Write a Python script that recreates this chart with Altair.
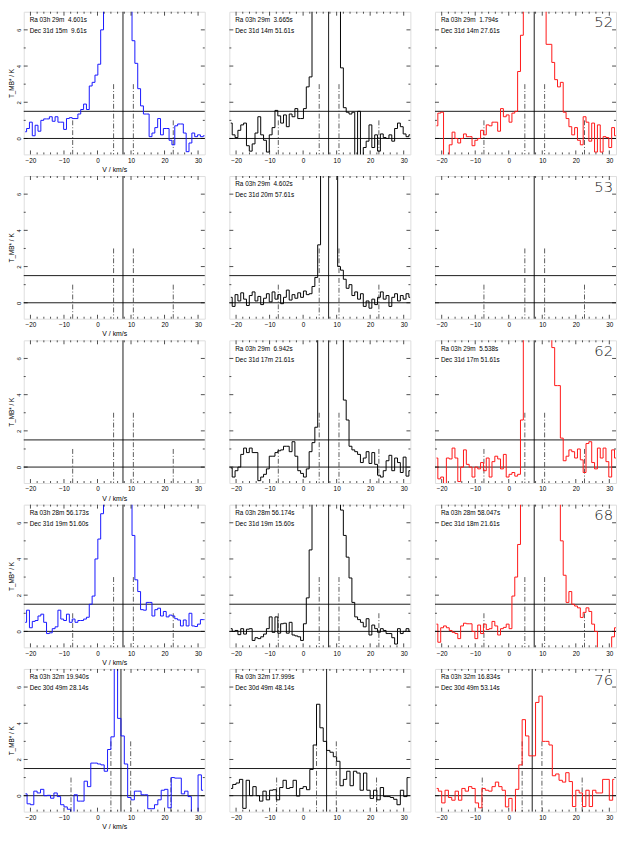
import altair as alt
import pandas as pd

# ---------------- axis ranges ----------------
X_DOMAIN = [-22.0, 32.0]
Y_DOMAIN = [-0.88, 7.0]
x_label_values = [-20, -10, 0, 10, 20, 30]
y_label_values = [0, 2, 4, 6]
x_major_ticks = [-20, -10, 0, 10, 20, 30]
x_minor_ticks = [-18, -16, -14, -12, -8, -6, -4, -2, 2, 4, 6, 8,
                 12, 14, 16, 18, 22, 24, 26, 28]
y_major_ticks = [0, 2, 4, 6]
y_minor_ticks = [1, 3, 5]

# spectral grid (first channel edge, channel width in km/s)
V_START = -22.0
DV_UPPER = 0.85   # rows 1-4
DV_LOWER = 1.0    # row 5

# ---------------- spectra: T_MB* (K) per channel ----------------
r1c1 = [0.37, 0.55, 0.9, 0.15, 0.73, 0.4, 1.0, 1.08, 1.08, 1.2,
        0.95, 1.2, 0.9, 0.9, 0.5, 1.1, 1.15, 1.1, 1.1, 1.35,
        1.6, 1.9, 1.6, 2.9, 3.1, 3.5, 4.1, 6.0,
        8.5, 10.5, 12.5, 14.0, 14.5, 14.0, 12.5, 11.0, 9.5, 8.0,
        5.4, 4.15, 2.75, 1.8, 1.35, 1.35, 0.1, 0.3, 0.6, 1.1,
        0.2, 0.55, 0.55, -0.1, -0.35, 0.7, 0.8, 0.8, 0.3, -0.73,
        -0.25, 0.3, 0.1, 0.2, 0.1, 0.15]
r1c2 = [0.85, 0.2, 0.05, 0.45, 0.75, 0.85, -0.4, -0.7, -0.3, 0.3,
        1.2, 0.2, -0.1, -0.75, 0.2, 0.6, 1.55, 1.25, 0.85, 1.3,
        0.65, 1.35, 1.2, 1.65, 1.1, 1.1, 1.65, 2.85, 3.4,
        8.0, 9.5, 11.0, 12.5, 13.5, 13.5, 12.5, 11.0, 9.5, 8.0,
        3.9, 1.7, 1.45, 1.35, 1.45, -1.2, 1.5, -1.2, -0.5, -0.15,
        0.75, -0.5, 0.2, -0.7, 0.25, 0.05, 0.0, 0.2, -0.15, 0.55,
        0.85, 0.65, 0.25, 0.1, 0.2]
r1c3 = [0.7, 1.4, 1.45, -1.2, -1.2, -0.35, 0.35, 0.0, -0.25, 0.0,
        0.25, 0.1, 0.1, -0.4, -0.1, 0.0, 0.45, 0.2, 0.75, 0.7,
        0.9, 0.9, 0.4, 1.65, 1.2, 1.3, 0.9, 1.4, 1.5, 3.7,
        5.7,
        8.5, 10.0, 12.0, 13.0, 13.0, 12.0, 10.0, 8.5,
        5.2, 5.2, 4.2, 3.25, 2.85, 3.1, 1.45, 1.1, 0.65, 0.2,
        0.6, -0.1, -0.35, 1.2, 0.9, -0.15, 0.85, -0.75, 0.75, -0.75,
        0.1, 0.05, -0.5, 0.6, 0.15]
r2c2 = [0.3, -0.2, 0.45, 0.1, 0.55, 0.2, -0.15, 0.4, 0.6, 0.1,
        0.35, -0.1, 0.25, 0.5, 0.05, 0.6, 0.2, 0.45, -0.05, 0.3,
        0.7, 0.15, 0.45, 0.25, 0.55, 0.3, 0.65, 0.45,
        0.5, 0.9, 1.4, 3.2,
        8.0, 10.0, 11.0, 11.0, 10.0, 8.5,
        2.0, 1.8, 1.3, 0.8, 1.0, 0.4, 0.6, 0.2, 0.5, -0.2,
        0.1, -0.3, 0.2, -0.1, 0.3, 0.6, 0.2, 0.4, -0.2, 0.3,
        0.5, 0.1, 0.4, 0.2, 0.5, 0.3]
r3c2 = [-0.05, -0.55, -0.2, 0.0, 0.7, 1.05, 0.8, 1.05, 0.8, 0.8,
        -0.75, -0.55, -0.4, -0.1, 0.6, 0.6, 0.8, 0.9, 0.95, 1.15,
        1.15, 0.85, 1.4, 0.6, -0.2, -0.35, -0.55, -0.1, 0.85, 1.35,
        2.2,
        8.0, 9.5, 11.0, 12.0, 12.5, 12.0, 11.0, 9.5, 8.0,
        3.7, 2.6, 1.15, 0.95, 0.85, 0.7, 0.25, 0.5, 0.85, 0.2,
        0.8, 0.15, -0.45, -0.55, -0.2, 0.35, 0.65, -0.2, 0.5, 0.25,
        -0.3, 0.55, -0.5, -0.2]
r3c3 = [0.5, -0.65, -0.55, -1.2, 0.5, 0.45, 1.05, 0.5, -0.8, 0.0,
        0.95, 0.15, 0.0, -0.55, 0.0, -0.1, 0.25, -0.2, 0.5, -0.55,
        0.3, 0.6, 0.45, -0.1, 0.7, -0.55, -0.4, -0.3, -0.5, -0.4,
        2.6,
        8.0, 9.5, 11.0, 12.0, 13.0, 13.0, 12.0, 11.0, 9.5, 8.0,
        6.6, 4.5, 4.5, 1.6, 0.35, 0.6, 0.95, 0.85, 0.5,
        1.0, 0.4, -0.3, 1.3, 1.4, 0.25, -0.1, 1.05, 0.5, 1.05,
        0.3, -0.55, 0.95, 0.5]
r4c1 = [0.5, 1.17, 0.2, 0.55, 0.6, 0.85, 0.95, 0.5, -0.12, -0.08,
        0.15, 0.25, 1.17, 0.68, 0.6, 0.95, 0.5, 0.68, 0.5, 0.6,
        0.6, 0.68, 0.78, 1.5, 1.95, 4.0, 5.1, 6.5,
        8.0, 9.5, 11.0, 12.5, 13.5, 13.5, 12.5, 11.0, 9.5, 8.0,
        5.3, 2.85, 2.2, 1.2, 1.17, 1.6, 1.6, 0.85, 1.2, 1.28,
        0.85, 1.1, 0.8, 0.9, 0.85, 0.7, 0.63, 0.3, 0.63, 0.3,
        1.0, 0.3, 0.27, 0.4, 0.65, 0.65]
r4c2 = [0.15, 0.0, 0.05, -0.18, 0.15, -0.15, 0.12, 0.15, -0.5, -0.35,
        -0.4, -0.3, -0.15, 0.15, 0.8, -0.05, 0.8, -0.1, 0.42, 0.45,
        -0.1, 0.5, -0.2, -0.25, -0.3, -0.5, 0.42, 1.85, 4.5,
        8.0, 9.5, 11.0, 12.5, 13.5, 13.5, 12.5, 11.0, 9.5, 8.0,
        6.7, 5.3, 4.1, 2.95, 1.6, 0.8, 0.65, 0.5, 0.25, 0.7,
        -0.2, 0.35, 0.15, -0.05, 0.15, 0.05, -0.12, -0.12, -0.35, -0.7,
        0.15, -0.12, 0.0, 0.15, 0.0]
r4c3 = [0.4, -0.6, 0.2, 0.3, 0.2, 0.05, -0.05, -0.12, -0.4, 0.3,
        0.45, 0.42, 0.42, 0.0, -0.4, 0.35, -0.12, 0.4, 0.1, 0.15,
        0.55, 0.3, -0.2, 0.15, 0.22, 0.4, 0.15, 1.95, 3.0, 4.8,
        8.0, 9.0, 10.0, 11.0, 12.0, 13.0, 13.5, 13.5, 13.0, 12.0, 11.0, 10.0, 9.0, 8.0,
        5.0, 3.1, 1.6, 2.2, 1.5, 1.4, 1.3, 0.77, 1.05, 1.3,
        1.1, 0.4, 0.0, -1.2, -1.2, -1.2, -1.2, -1.2, -0.3, 0.2]
r5c1 = [0.1, -0.45, -0.5, 0.25, 0.15, 0.35, 0.0, 0.02, -0.14, 0.15,
        -0.05, -0.5, -0.62, -0.75, -0.95, 0.05, -0.3, -0.3, 0.8, 0.5,
        1.8, 1.8, 1.75, 1.7, 1.35, 2.55, 3.25, 9.0, 4.27, 3.3,
        1.75, -0.1, -0.23, 0.25, 0.25, 0.05, 0.05, -0.72, -0.72, -0.5,
        -0.23, 0.3, 0.35, -0.67, 1.0, 0.97, 0.97, 0.1, 0.25, -0.05,
        -1.2, -1.2, 1.15, 0.3]
r5c2 = [0.4, 0.62, 0.7, 0.9, -0.7, 0.85, 0.0, 0.5, 0.0, -0.3,
        0.25, -0.23, 0.3, 0.33, -0.23, 0.45, 0.85, 0.4, 0.45, 0.85,
        -0.02, 0.4, 0.5, 0.33, 1.45, 2.8, 5.05, 3.75, 3.0, 2.5,
        2.4, 2.15, 1.9, 0.55, 0.9, 1.35, 0.55, 1.35, 1.25, 0.3,
        1.25, 0.3, -0.15, 0.3, -0.23, 0.45, -0.05, -0.05, -0.1, -0.2,
        -0.5, 0.3, -0.05, 1.0]
r5c3 = [0.4, 0.25, -0.4, 0.3, -0.1, -0.25, 0.25, -0.25, 0.4, 0.25,
        0.5, 0.4, -0.4, -0.67, 0.4, 0.3, 0.25, 0.5, 0.75, 0.5,
        0.3, -0.62, -0.15, -1.2, 0.35, 1.7, 4.2, 3.3, 2.2, 2.2,
        5.15, 5.5, 3.0, 3.0, 2.8, 1.1, 1.2, 0.85, 0.75, 1.27,
        0.78, -0.6, 0.3, 0.15, -0.6, 0.3, -0.6, 0.3, 0.15, 0.15,
        0.9, 0.9, -0.25, 0.9]

spectra = [
    [r1c1, r1c2, r1c3],
    [None, r2c2, None],
    [None, r3c2, r3c3],
    [r4c1, r4c2, r4c3],
    [r5c1, r5c2, r5c3],
]
row_dv = [DV_UPPER, DV_UPPER, DV_UPPER, DV_UPPER, DV_LOWER]

ra_text = [
    ["Ra 03h 29m  4.601s", "Ra 03h 29m  3.665s", "Ra 03h 29m  1.794s"],
    [None, "Ra 03h 29m  4.602s", None],
    [None, "Ra 03h 29m  6.942s", "Ra 03h 29m  5.538s"],
    ["Ra 03h 28m 56.173s", "Ra 03h 28m 56.174s", "Ra 03h 28m 58.047s"],
    ["Ra 03h 32m 19.940s", "Ra 03h 32m 17.999s", "Ra 03h 32m 16.834s"],
]
dec_text = [
    ["Dec 31d 15m  9.61s", "Dec 31d 14m 51.61s", "Dec 31d 14m 27.61s"],
    [None, "Dec 31d 20m 57.61s", None],
    [None, "Dec 31d 17m 21.61s", "Dec 31d 17m 51.61s"],
    ["Dec 31d 19m 51.60s", "Dec 31d 19m 15.60s", "Dec 31d 18m 21.61s"],
    ["Dec 30d 49m 28.14s", "Dec 30d 49m 48.14s", "Dec 30d 49m 53.14s"],
]
field_numbers = ["52", "53", "62", "68", "76"]

# reference velocities per row
solid_v = [7.6, 7.6, 7.6, 7.6, 7.0]
dashdot_v = [
    [-7.4, 4.8, 10.7, 22.6],
    [-7.4, 4.8, 10.7, 22.6],
    [-7.4, 4.8, 10.7, 22.6],
    [-7.4, 4.8, 10.7, 22.6],
    [-7.9, 4.0, 9.9, 21.9],
]
dashdot_h = [1.0, 3.0, 3.0, 1.0]
level_lines = [0.0, 1.5]

# ---------------- styling ----------------
W, H = 184, 145
FONT = "Liberation Sans"
COLORS = ["#1515ff", "#000000", "#ff1515"]
MAJOR_LEN, MINOR_LEN = 4, 2

xs = alt.Scale(domain=X_DOMAIN, nice=False, zero=False)
ys = alt.Scale(domain=Y_DOMAIN, nice=False, zero=False)


def x_axis(first_col):
    return alt.Axis(values=x_label_values, title="V / km/s" if first_col else None,
                    ticks=False, tickSize=0, domain=False, grid=False,
                    labelPadding=3, labelFontSize=6.5, labelFlush=False,
                    labelColor="black", labelFont=FONT,
                    titleFontSize=7, titleFontWeight="normal", titlePadding=2,
                    titleColor="black", titleFont=FONT)


def y_axis(first_col):
    if not first_col:
        return None
    return alt.Axis(values=y_label_values, title="T_MB* / K",
                    ticks=False, tickSize=0, domain=False, grid=False,
                    labelAngle=270, labelAlign="center", labelBaseline="bottom",
                    labelPadding=2, labelFontSize=6, labelColor="black", labelFont=FONT,
                    titleFontSize=6.5, titleFontWeight="normal", titlePadding=1.5,
                    titleColor="black", titleFont=FONT)


def X(field, first_col):
    return alt.X(f"{field}:Q", scale=xs, axis=x_axis(first_col))


def Y(field, first_col):
    return alt.Y(f"{field}:Q", scale=ys, axis=y_axis(first_col))


def nb(s):
    return s.replace("  ", " \u00a0")


def edge_ticks(first):
    out = []
    for vals, L in ((x_major_ticks, MAJOR_LEN), (x_minor_ticks, MINOR_LEN)):
        d = pd.DataFrame({"v": vals})
        out.append(alt.Chart(d).mark_rule(color="black", strokeWidth=0.7).encode(
            x=X("v", first), y=alt.value(0), y2=alt.value(L)))
        out.append(alt.Chart(d).mark_rule(color="black", strokeWidth=0.7).encode(
            x=X("v", first), y=alt.value(H - L), y2=alt.value(H)))
    for vals, L in ((y_major_ticks, MAJOR_LEN), (y_minor_ticks, MINOR_LEN)):
        d = pd.DataFrame({"h": vals})
        out.append(alt.Chart(d).mark_rule(color="black", strokeWidth=0.7).encode(
            y=Y("h", first), x=alt.value(0), x2=alt.value(L)))
        out.append(alt.Chart(d).mark_rule(color="black", strokeWidth=0.7).encode(
            y=Y("h", first), x=alt.value(W - L), x2=alt.value(W)))
    return out


def panel(r, c):
    first = (c == 0)
    layers = []
    layers.append(alt.Chart(pd.DataFrame({"h": level_lines})).mark_rule(
        color="black", strokeWidth=0.9).encode(y=Y("h", first)))
    layers.append(alt.Chart(pd.DataFrame({"v": [solid_v[r]]})).mark_rule(
        color="black", strokeWidth=0.9).encode(x=X("v", first)))
    layers.append(alt.Chart(pd.DataFrame({"v": dashdot_v[r], "h": dashdot_h})).mark_rule(
        color="#333333", strokeWidth=0.8, strokeDash=[5, 2, 1, 2]).encode(
        x=X("v", first), y=Y("h", first), y2=alt.value(H)))
    spec = spectra[r][c]
    if spec is not None:
        dv = row_dv[r]
        df = pd.DataFrame({"v": [V_START + dv * (i + 0.5) for i in range(len(spec))],
                           "t": spec})
        layers.append(alt.Chart(df).mark_line(
            interpolate="step", clip=True, color=COLORS[c], strokeWidth=1).encode(
            x=X("v", first), y=Y("t", first)))
    layers.extend(edge_ticks(first))
    if ra_text[r][c] is not None:
        for txt, ypix in ((ra_text[r][c], 10.5), (dec_text[r][c], 21.5)):
            layers.append(alt.Chart(pd.DataFrame({"s": [nb(txt)]})).mark_text(
                align="left", baseline="alphabetic", fontSize=6.5, font=FONT,
                color="black").encode(x=alt.value(6), y=alt.value(ypix), text="s:N"))
    if c == 2:
        layers.append(alt.Chart(pd.DataFrame({"n": [field_numbers[r]]})).mark_text(
            align="right", baseline="alphabetic", fontSize=15, font="DejaVu Sans",
            fontWeight=200, color="#222222").encode(
            x=alt.value(W - 3), y=alt.value(16), text="n:N"))
    return alt.layer(*layers).properties(width=W, height=H)


panels = [panel(r, c) for r in range(5) for c in range(3)]
chart = alt.concat(*panels, columns=3, spacing=alt.RowColnumber(row=22, column=25),
                   bounds="flush").properties(
    padding=alt.Padding(top=-4, left=0, right=0, bottom=0))
chart = chart.configure_view(stroke="black", strokeWidth=0.9).configure(font=FONT)

chart.save("out.html", embed_options={"renderer": "svg", "actions": False})
